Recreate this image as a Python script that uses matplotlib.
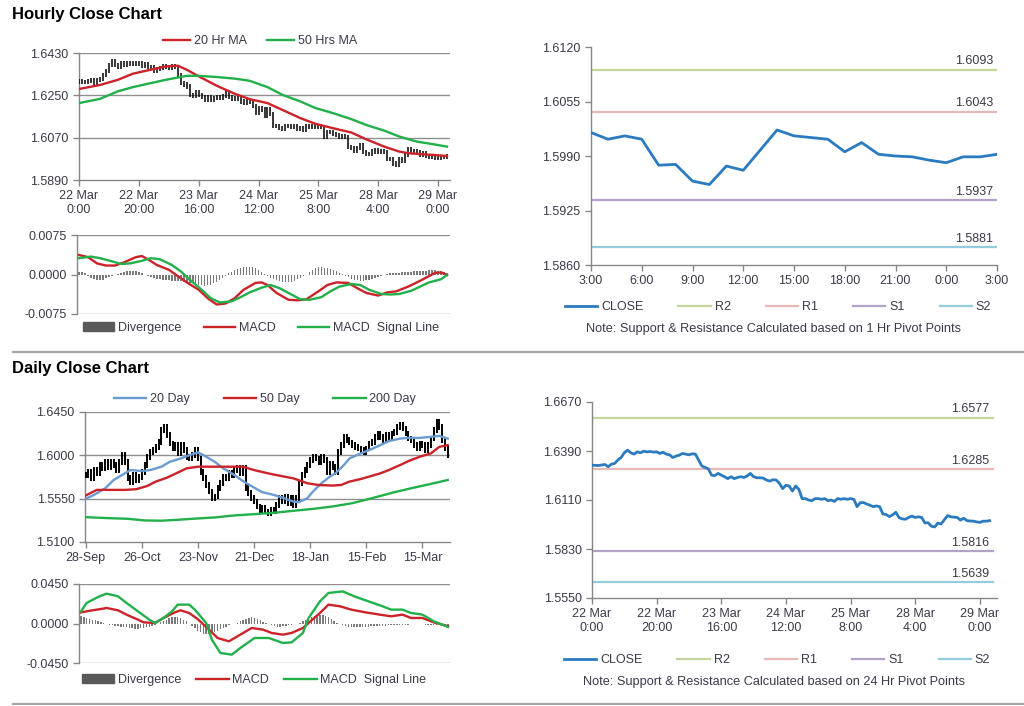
import numpy as np
import matplotlib
matplotlib.use('Agg')
import matplotlib.pyplot as plt
from matplotlib.lines import Line2D
from matplotlib.patches import Patch

plt.rcParams['font.family'] = ['Liberation Sans', 'DejaVu Sans']

# ---------------- DATA ----------------
hourly_ticks = ['22 Mar\n0:00', '22 Mar\n20:00', '23 Mar\n16:00', '24 Mar\n12:00',
                '25 Mar\n8:00', '28 Mar\n4:00', '29 Mar\n0:00']
hourly_close = [
    1.6309, 1.6308, 1.6307, 1.6310, 1.6313, 1.6300, 1.6315, 1.6319, 1.6338, 1.6353,
    1.6380, 1.6395, 1.6380, 1.6372, 1.6385, 1.6380, 1.6389, 1.6385, 1.6387, 1.6384,
    1.6385, 1.6376, 1.6383, 1.6372, 1.6368, 1.6353, 1.6361, 1.6366, 1.6376, 1.6372,
    1.6368, 1.6374, 1.6372, 1.6338, 1.6304, 1.6296, 1.6288, 1.6252, 1.6249, 1.6262,
    1.6252, 1.6243, 1.6232, 1.6243, 1.6232, 1.6239, 1.6243, 1.6239, 1.6247, 1.6262,
    1.6243, 1.6237, 1.6237, 1.6235, 1.6224, 1.6218, 1.6226, 1.6224, 1.6205, 1.6175,
    1.6194, 1.6190, 1.6161, 1.6190, 1.6171, 1.6118, 1.6118, 1.6110, 1.6106, 1.6118,
    1.6118, 1.6114, 1.6118, 1.6106, 1.6110, 1.6102, 1.6118, 1.6114, 1.6118, 1.6114,
    1.6118, 1.6114, 1.6072, 1.6095, 1.6095, 1.6087, 1.6080, 1.6072, 1.6076, 1.6072,
    1.6030, 1.6027, 1.6015, 1.6025, 1.6040, 1.6009, 1.6002, 1.6000, 1.6011,
    1.6018, 1.6010, 1.6014, 1.6010, 1.5979, 1.5980, 1.5960, 1.5956, 1.5978, 1.5973,
    1.5997, 1.6021, 1.6014, 1.6012, 1.6010, 1.5995, 1.6006, 1.5992, 1.5990, 1.5989,
    1.5985, 1.5982, 1.5989, 1.5989, 1.5992]

ma20h_bar = [0, 7, 13, 18, 24, 29, 33, 36, 40, 46, 52, 57, 63, 68, 74, 79, 85, 91, 96, 102, 107, 110, 113, 118, 123]
ma20h_val = [1.6277, 1.6294, 1.6316, 1.6342, 1.6359, 1.6373, 1.6376, 1.6359, 1.6331, 1.6291, 1.6257, 1.6234,
             1.6217, 1.6188, 1.6153, 1.6129, 1.6110, 1.6092, 1.6063, 1.6032, 1.6011, 1.6004, 1.6001, 1.5997, 1.5992]
ma50h_bar = [0, 7, 13, 18, 24, 29, 34, 36, 40, 46, 52, 57, 63, 68, 74, 79, 85, 91, 96, 102, 107, 113, 118, 123]
ma50h_val = [1.6217, 1.6235, 1.6267, 1.6285, 1.6302, 1.6316, 1.6328, 1.6333, 1.6333, 1.6328, 1.6321, 1.6312,
             1.6285, 1.6252, 1.6224, 1.6196, 1.6174, 1.6149, 1.6124, 1.6100, 1.6075, 1.6053, 1.6043, 1.6032]

macdh_bar = [0, 3, 6, 9, 12, 15, 19, 21, 23, 26, 30, 33, 36, 40, 43, 46, 49, 52, 55, 59, 61, 63, 66, 70, 73, 76,
             80, 83, 86, 90, 93, 96, 100, 103, 106, 110, 114, 119, 121, 123]
macdh_val = [0.0037, 0.0033, 0.0021, 0.0017, 0.0017, 0.0023, 0.0033, 0.0035, 0.0029, 0.0018, 0.0009, -0.0003,
             -0.0015, -0.0029, -0.0045, -0.0057, -0.0055, -0.0045, -0.0029, -0.0016, -0.0015, -0.0020, -0.0035,
             -0.0048, -0.0049, -0.0047, -0.0032, -0.0020, -0.0015, -0.0016, -0.0026, -0.0035, -0.0040, -0.0034,
             -0.0032, -0.0023, -0.0012, 0.0003, 0.0004, -0.0001]
sigh_bar = [0, 4, 7, 11, 14, 17, 21, 24, 27, 31, 34, 37, 41, 44, 47, 51, 54, 57, 61, 64, 67, 71, 74, 77, 81, 84,
            87, 91, 94, 97, 101, 104, 107, 111, 114, 117, 121, 123]
sigh_val = [0.0031, 0.0034, 0.0031, 0.0025, 0.0020, 0.0021, 0.0026, 0.0031, 0.0029, 0.0018, 0.0006, -0.0010,
            -0.0029, -0.0045, -0.0053, -0.0051, -0.0043, -0.0034, -0.0025, -0.0020, -0.0026, -0.0038, -0.0047,
            -0.0048, -0.0043, -0.0032, -0.0023, -0.0018, -0.0020, -0.0029, -0.0037, -0.0038, -0.0037, -0.0031,
            -0.0023, -0.0015, -0.0009, -0.0001]
divh_val = [0.0005, 0.0004, 0.0003,
            -0.0003, -0.0006, -0.0009, -0.0011, -0.0011, -0.0010, -0.0007, -0.0004,
            -0.0002, 0.0000, 0.0001, 0.0002,
            0.0004, 0.0006, 0.0007, 0.0007, 0.0006, 0.0004, 0.0002, 0.0000,
            -0.0003, -0.0005, -0.0007, -0.0008, -0.0009, -0.0010, -0.0011, -0.0011, -0.0012, -0.0012, -0.0012,
            -0.0013, -0.0014,
            -0.0015, -0.0016, -0.0017, -0.0018, -0.0019, -0.0020, -0.0021, -0.0020, -0.0019, -0.0017, -0.0014,
            -0.0010, -0.0006,
            -0.0002, 0.0002, 0.0005,
            0.0008, 0.0010, 0.0012, 0.0014, 0.0015, 0.0015, 0.0014, 0.0012, 0.0009, 0.0005,
            0.0001, -0.0003,
            -0.0006, -0.0009, -0.0011, -0.0013, -0.0014, -0.0015, -0.0015, -0.0014, -0.0012, -0.0009, -0.0006,
            -0.0003, 0.0000,
            0.0004, 0.0008, 0.0012, 0.0015, 0.0014, 0.0013, 0.0012, 0.0010, 0.0008, 0.0006, 0.0003, 0.0001,
            -0.0002, -0.0005, -0.0008, -0.0010, -0.0011, -0.0012, -0.0012, -0.0011, -0.0010, -0.0008, -0.0006,
            -0.0004, -0.0002,
            0.0000, 0.0001, 0.0002, 0.0002, 0.0003, 0.0003, 0.0004, 0.0004, 0.0005, 0.0005, 0.0006, 0.0006,
            0.0007, 0.0007, 0.0007, 0.0008, 0.0008, 0.0008, 0.0007, 0.0006, 0.0004, 0.0002]

pivot_hours = ['3:00', '6:00', '9:00', '12:00', '15:00', '18:00', '21:00', '0:00', '3:00']
pivot1h = {'R2': 1.6093, 'R1': 1.6043, 'S1': 1.5937, 'S2': 1.5881}
pivot24h = {'R2': 1.6577, 'R1': 1.6285, 'S1': 1.5816, 'S2': 1.5639}

daily_ticks = ['28-Sep', '26-Oct', '23-Nov', '21-Dec', '18-Jan', '15-Feb', '15-Mar']
daily_close = [
    1.5796, 1.5830, 1.5761, 1.5847, 1.5813, 1.5899, 1.5865, 1.5933, 1.5882, 1.5933,
    1.5899, 1.5847, 1.5933, 1.6002, 1.5933, 1.5761, 1.5727, 1.5796, 1.5744, 1.5779,
    1.5830, 1.5899, 1.5985, 1.6037, 1.6054, 1.6088, 1.6140, 1.6261, 1.6295, 1.6209,
    1.6123, 1.6071, 1.6106, 1.6020, 1.6106, 1.6054, 1.5985, 1.5968, 1.6002, 1.6054,
    1.5968, 1.5830, 1.5761, 1.5692, 1.5624, 1.5555, 1.5572, 1.5658, 1.5710, 1.5779,
    1.5761, 1.5813, 1.5796, 1.5847, 1.5865, 1.5813, 1.5865, 1.5658, 1.5606, 1.5555,
    1.5520, 1.5469, 1.5434, 1.5451, 1.5417, 1.5400, 1.5434, 1.5417, 1.5486, 1.5555,
    1.5520, 1.5572, 1.5503, 1.5555, 1.5486, 1.5555, 1.5710, 1.5796, 1.5847, 1.5899,
    1.5951, 1.5985, 1.5968, 1.5933, 1.5985, 1.5951, 1.5830, 1.5916, 1.5882, 1.5830,
    1.6037, 1.6106, 1.6192, 1.6157, 1.6133, 1.6106, 1.6088, 1.6071, 1.6054, 1.6037,
    1.6071, 1.6123, 1.6140, 1.6192, 1.6226, 1.6192, 1.6157, 1.6209, 1.6174, 1.6226,
    1.6243, 1.6295, 1.6312, 1.6278, 1.6226, 1.6174, 1.6157, 1.6106, 1.6071, 1.6123,
    1.6106, 1.6054, 1.6106, 1.6174, 1.6261, 1.6347, 1.6295, 1.6157, 1.6071, 1.6002]

ma20d_bar = [0, 3, 7, 10, 14, 16, 20, 23, 27, 30, 34, 37, 40, 42, 46, 49, 53, 56, 60, 63, 67, 70, 74, 76, 79,
             81, 84, 87, 89, 92, 94, 98, 101, 105, 108, 112, 115, 119, 123, 126, 129]
ma20d_val = [1.5548, 1.5589, 1.5658, 1.5744, 1.5813, 1.5847, 1.5837, 1.5847, 1.5882, 1.5933, 1.5968, 1.6002,
             1.6030, 1.6002, 1.5933, 1.5865, 1.5796, 1.5734, 1.5665, 1.5617, 1.5589, 1.5562, 1.5520, 1.5513,
             1.5555, 1.5624, 1.5710, 1.5779, 1.5813, 1.5899, 1.5968, 1.6020, 1.6054, 1.6106, 1.6147, 1.6174,
             1.6181, 1.6181, 1.6192, 1.6202, 1.6174]
ma50d_bar = [0, 4, 9, 14, 18, 22, 25, 29, 33, 36, 40, 43, 48, 53, 56, 60, 65, 69, 74, 79, 83, 88, 91, 94, 98,
             101, 105, 108, 112, 115, 119, 123, 126, 129]
ma50d_val = [1.5582, 1.5641, 1.5641, 1.5641, 1.5648, 1.5682, 1.5727, 1.5768, 1.5823, 1.5865, 1.5882, 1.5882,
             1.5882, 1.5882, 1.5882, 1.5847, 1.5813, 1.5789, 1.5761, 1.5710, 1.5692, 1.5686, 1.5692, 1.5727,
             1.5754, 1.5779, 1.5813, 1.5847, 1.5899, 1.5940, 1.5985, 1.6020, 1.6088, 1.6106]
ma200d_bar = [0, 8, 15, 21, 27, 33, 38, 46, 53, 60, 67, 74, 81, 88, 95, 102, 110, 117, 124, 129]
ma200d_val = [1.5358, 1.5348, 1.5341, 1.5324, 1.5321, 1.5331, 1.5341, 1.5355, 1.5376, 1.5389, 1.5403, 1.5424,
              1.5444, 1.5469, 1.5503, 1.5555, 1.5617, 1.5665, 1.5710, 1.5744]

macdd_bar = [0, 4, 7, 9, 13, 16, 20, 22, 26, 29, 33, 35, 38, 41, 45, 48, 52, 55, 60, 64, 67, 71, 74, 78, 80, 84,
             87, 91, 95, 100, 105, 109, 113, 116, 120, 124, 127, 129]
macdd_val = [0.0127, 0.0150, 0.0165, 0.0177, 0.0150, 0.0101, 0.0044, 0.0013, 0.0006, 0.0063, 0.0127, 0.0150,
             0.0120, 0.0051, -0.0070, -0.0165, -0.0203, -0.0146, -0.0051, -0.0070, -0.0108, -0.0127, -0.0108,
             -0.0051, 0.0006, 0.0120, 0.0215, 0.0196, 0.0158, 0.0127, 0.0101, 0.0082, 0.0101, 0.0063, 0.0063,
             0.0013, -0.0013, -0.0032]
sigd_bar = [0, 2, 6, 9, 13, 16, 20, 24, 26, 29, 32, 34, 38, 40, 44, 46, 49, 53, 56, 61, 66, 71, 74, 78, 80, 84,
            87, 92, 96, 101, 106, 109, 113, 116, 120, 124, 127, 129]
sigd_val = [0.0138, 0.0234, 0.0302, 0.0340, 0.0310, 0.0234, 0.0139, 0.0044, 0.0006, 0.0063, 0.0139, 0.0215,
            0.0215, 0.0158, 0.0006, -0.0184, -0.0336, -0.0355, -0.0279, -0.0165, -0.0165, -0.0222, -0.0215,
            -0.0108, 0.0063, 0.0253, 0.0348, 0.0366, 0.0310, 0.0253, 0.0196, 0.0158, 0.0158, 0.0120, 0.0101,
            0.0025, -0.0013, -0.0040]
divd_val = [0.0085, 0.0075, 0.0065, 0.0055, 0.0045, 0.0035, 0.0025, 0.0015, 0.0008,
            -0.0010, -0.0015, -0.0020, -0.0025, -0.0030, -0.0035, -0.0040, -0.0045, -0.0050, -0.0055, -0.0060,
            -0.0060, -0.0055, -0.0050, -0.0045, -0.0040, -0.0030, -0.0020, -0.0010,
            0.0015, 0.0030, 0.0045, 0.0060, 0.0070, 0.0075, 0.0070, 0.0060, 0.0045, 0.0025,
            -0.0010, -0.0030, -0.0055, -0.0080, -0.0100, -0.0120, -0.0125, -0.0120, -0.0110, -0.0095, -0.0080,
            -0.0065, -0.0050, -0.0035, -0.0020, -0.0010, 0.0000, 0.0010,
            0.0025, 0.0040, 0.0055, 0.0065, 0.0070, 0.0065, 0.0050, 0.0035, 0.0020, 0.0005,
            -0.0010, -0.0020, -0.0030, -0.0035, -0.0035, -0.0030, -0.0025, -0.0020, -0.0015, -0.0010, -0.0005,
            0.0010, 0.0025, 0.0040, 0.0055, 0.0070, 0.0085, 0.0095, 0.0100, 0.0095, 0.0085, 0.0070, 0.0050,
            0.0030, 0.0010,
            -0.0010, -0.0020, -0.0030, -0.0035, -0.0040, -0.0040, -0.0040, -0.0040, -0.0040, -0.0038,
            -0.0036, -0.0034, -0.0032, -0.0030, -0.0028, -0.0026, -0.0024, -0.0022, -0.0020, -0.0020,
            -0.0018, -0.0016, -0.0014, -0.0014, -0.0012, -0.0010, -0.0010, -0.0008, -0.0008, -0.0010,
            -0.0012, -0.0014, -0.0016, -0.0018, -0.0020, -0.0022, -0.0024, -0.0026, -0.0028]

# ---------------- STYLE ----------------
W, H = 1024, 706
TXT = '#3d3848'
SPINE = '#868686'
GRID = '#8f8f8f'
RED = '#cc2229'
GREEN = '#22b04b'
BLUE_MA = '#6a9bd1'
CLOSE_C = '#2a7bbf'
PIV_C = {'R2': '#c3d69b', 'R1': '#e6b9b8', 'S1': '#b3a2c7', 'S2': '#93cddd'}
FS = 9

fig = plt.figure(figsize=(W / 100, H / 100), dpi=100)


def ax_px(x0, y0, x1, y1):
    return fig.add_axes([x0 / W, 1 - y1 / H, (x1 - x0) / W, (y1 - y0) / H])


def style(ax):
    for s in ['top', 'right']:
        ax.spines[s].set_visible(False)
    for s in ['left', 'bottom']:
        ax.spines[s].set_color(SPINE)
        ax.spines[s].set_linewidth(1)
    ax.tick_params(colors=SPINE, labelcolor=TXT, labelsize=FS, length=4, width=1)


def legend(ax, handles, labels, cx, cy, colsp, hl=2.5):
    ax.legend(handles, labels, loc='center', bbox_to_anchor=(cx / W, 1 - cy / H),
              bbox_transform=fig.transFigure, ncol=len(handles), frameon=False,
              fontsize=FS, handlelength=hl, handletextpad=0.3, columnspacing=colsp,
              labelcolor=TXT)


def ohlc(ax, closes, wick, lw):
    c = np.array(closes)
    x = np.arange(len(c))
    o = np.concatenate([[c[0]], c[:-1]])
    hi = np.maximum(o, c) + wick
    lo = np.minimum(o, c) - wick
    ax.vlines(x, lo, hi, color='black', lw=lw, zorder=3)


def price_grid(ax, ticks):
    for t in ticks[1:]:
        ax.axhline(t, color=GRID, lw=1, zorder=0)


def macd_panel(ax, div, mb, mv, sb, sv, lim, xmax):
    style(ax)
    ax.spines['bottom'].set_visible(False)
    ax.axhline(lim, color=GRID, lw=1, zorder=0)
    ax.axhline(-lim, color=GRID, lw=1, zorder=0)
    ax.bar(np.arange(len(div)), div, width=0.5, color='#7a7a7a', zorder=2)
    ax.plot(mb, mv, color=RED, lw=1.7, zorder=3)
    ax.plot(sb, sv, color=GREEN, lw=1.7, zorder=3)
    ax.set_ylim(-lim, lim)
    ax.set_yticks([-lim, 0, lim])
    ax.set_yticklabels(['%.4f' % v for v in [-lim, 0, lim]])
    ax.set_xlim(-0.7, xmax)
    ax.set_xticks([])


def pivot_panel(ax, x, y, piv, xmax, xline_end):
    style(ax)
    for k in ['R2', 'R1', 'S1', 'S2']:
        ax.plot([0, xline_end], [piv[k], piv[k]], color=PIV_C[k], lw=1.6, zorder=1)
        ax.annotate('%.4f' % piv[k], xy=(xline_end, piv[k]), xytext=(-3, 2),
                    textcoords='offset points', ha='right', va='bottom', fontsize=FS, color=TXT)
    ax.plot(x, y, color=CLOSE_C, lw=2.0, zorder=3)
    ax.set_xlim(0, xmax)


# ---------------- HOURLY PRICE ----------------
ax1 = ax_px(79, 53, 450, 180)
style(ax1)
yt = [1.5890, 1.6070, 1.6250, 1.6430]
price_grid(ax1, yt)
ohlc(ax1, hourly_close, 0.0009, 1.1)
ax1.plot(ma20h_bar, ma20h_val, color=RED, lw=1.7, zorder=4)
ax1.plot(ma50h_bar, ma50h_val, color=GREEN, lw=1.7, zorder=4)
ax1.set_ylim(yt[0], yt[-1])
ax1.set_yticks(yt)
ax1.set_yticklabels(['%.4f' % v for v in yt])
ax1.set_xlim(0, 124)
ax1.set_xticks(range(0, 121, 20))
ax1.set_xticklabels(hourly_ticks)
legend(ax1, [Line2D([], [], color=RED, lw=1.7), Line2D([], [], color=GREEN, lw=1.7)],
       ['20 Hr MA', '50 Hrs MA'], 260, 41, 1.6, hl=2.2)

# ---------------- HOURLY MACD ----------------
ax2 = ax_px(77, 235, 450, 314)
macd_panel(ax2, divh_val, macdh_bar, macdh_val, sigh_bar, sigh_val, 0.0075, 124)
legend(ax2, [Patch(color='#595959'), Line2D([], [], color=RED, lw=1.7), Line2D([], [], color=GREEN, lw=1.7)],
       ['Divergence', 'MACD', 'MACD  Signal Line'], 261, 328, 1.8, hl=2.5)

# ---------------- 1 HR PIVOT ----------------
ax3 = ax_px(591, 47, 997, 265)
last = hourly_close[-25:]
pivot_panel(ax3, np.arange(len(last)), last, pivot1h, 24, 24)
yt3 = [1.5860, 1.5925, 1.5990, 1.6055, 1.6120]
ax3.set_ylim(yt3[0], yt3[-1])
ax3.set_yticks(yt3)
ax3.set_yticklabels(['%.4f' % v for v in yt3])
ax3.set_xticks(range(0, 25, 3))
ax3.set_xticklabels(pivot_hours)
piv_handles = [Line2D([], [], color=CLOSE_C, lw=2)] + [Line2D([], [], color=PIV_C[k], lw=1.6) for k in ['R2', 'R1', 'S1', 'S2']]
legend(ax3, piv_handles, ['CLOSE', 'R2', 'R1', 'S1', 'S2'], 778, 307, 2.8, hl=2.6)
fig.text(774 / W, 1 - 329 / H, 'Note: Support & Resistance Calculated based on 1 Hr Pivot Points',
         ha='center', va='center', fontsize=9.2, color=TXT)

# ---------------- DAILY PRICE ----------------
ax4 = ax_px(85, 412, 450, 542)
style(ax4)
yt4 = [1.5100, 1.5550, 1.6000, 1.6450]
price_grid(ax4, yt4)
ohlc(ax4, daily_close, 0.0030, 1.4)
ax4.plot(ma20d_bar, ma20d_val, color=BLUE_MA, lw=1.7, zorder=4)
ax4.plot(ma50d_bar, ma50d_val, color=RED, lw=1.7, zorder=4)
ax4.plot(ma200d_bar, ma200d_val, color=GREEN, lw=1.7, zorder=4)
ax4.set_ylim(yt4[0], yt4[-1])
ax4.set_yticks(yt4)
ax4.set_yticklabels(['%.4f' % v for v in yt4])
ax4.set_xlim(-0.2, 129.8)
ax4.set_xticks(range(0, 121, 20))
ax4.set_xticklabels(daily_ticks)
legend(ax4, [Line2D([], [], color=BLUE_MA, lw=1.7), Line2D([], [], color=RED, lw=1.7),
             Line2D([], [], color=GREEN, lw=1.7)],
       ['20 Day', '50 Day', '200 Day'], 265, 399, 2.7, hl=2.6)

# ---------------- DAILY MACD ----------------
ax5 = ax_px(79, 584, 450, 663)
macd_panel(ax5, divd_val, macdd_bar, macdd_val, sigd_bar, sigd_val, 0.0450, 129.7)
legend(ax5, [Patch(color='#595959'), Line2D([], [], color=RED, lw=1.7), Line2D([], [], color=GREEN, lw=1.7)],
       ['Divergence', 'MACD', 'MACD  Signal Line'], 254, 680, 1.2, hl=2.6)

# ---------------- 24 HR PIVOT ----------------
ax6 = ax_px(592, 402, 997, 598)
pivot_panel(ax6, np.arange(len(hourly_close)), hourly_close, pivot24h, 125.3, 124.2)
yt6 = [1.5550, 1.5830, 1.6110, 1.6390, 1.6670]
ax6.set_ylim(yt6[0], yt6[-1])
ax6.set_yticks(yt6)
ax6.set_yticklabels(['%.4f' % v for v in yt6])
ax6.set_xticks(range(0, 121, 20))
ax6.set_xticklabels(hourly_ticks)
legend(ax6, piv_handles, ['CLOSE', 'R2', 'R1', 'S1', 'S2'], 777, 660, 2.8, hl=2.6)
fig.text(774 / W, 1 - 682 / H, 'Note: Support & Resistance Calculated based on 24 Hr Pivot Points',
         ha='center', va='center', fontsize=9.2, color=TXT)

# ---------------- TITLES & SEPARATORS ----------------
fig.text(12 / W, 1 - 15 / H, 'Hourly Close Chart', ha='left', va='center', fontsize=12,
         fontweight='bold', color='black')
fig.text(12 / W, 1 - 369 / H, 'Daily Close Chart', ha='left', va='center', fontsize=12,
         fontweight='bold', color='black')
for yy in [352, 704]:
    fig.add_artist(Line2D([13 / W, 1.0], [1 - yy / H, 1 - yy / H], transform=fig.transFigure,
                          color='#a6a6a6', lw=1.6))

fig.savefig('out.png', dpi=100)
